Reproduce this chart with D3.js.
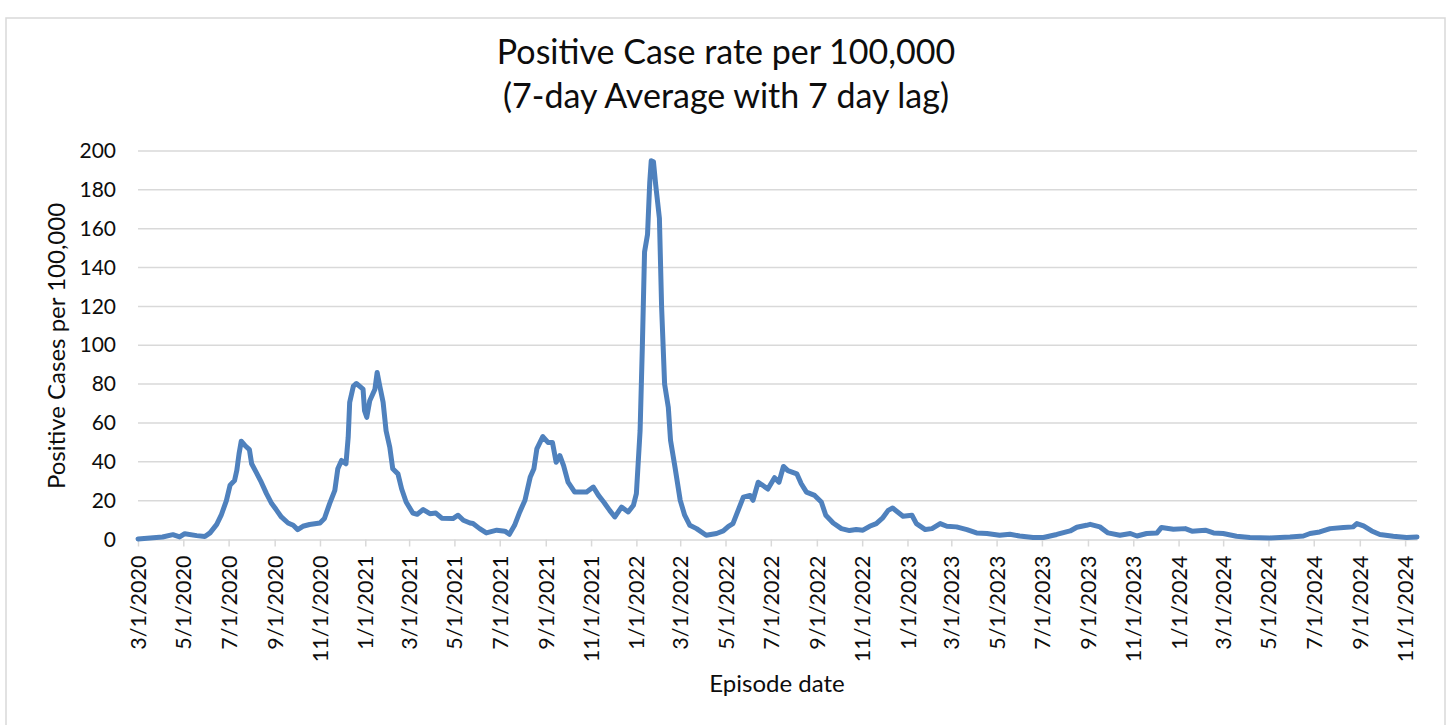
<!DOCTYPE html>
<html>
<head>
<meta charset="utf-8">
<script src="https://cdn.jsdelivr.net/npm/d3@7"></script>
<style>
  html, body { margin: 0; padding: 0; background: #fff; }
  svg { display: block; font-family: Lato, "Open Sans", sans-serif; }
</style>
</head>
<body>
<svg id="chart" width="1449" height="725"></svg>
<script>
// episode dates and 7-day average rate per 100,000
const dates = [
  "2020-03-01","2020-04-03","2020-04-17","2020-04-26","2020-05-03","2020-05-19","2020-05-30","2020-06-06",
  "2020-06-15","2020-06-21","2020-06-28","2020-07-03","2020-07-09","2020-07-12","2020-07-15","2020-07-18",
  "2020-07-23","2020-07-29","2020-08-01","2020-08-07","2020-08-14","2020-08-21","2020-08-28","2020-09-03",
  "2020-09-10","2020-09-19","2020-09-26","2020-10-02","2020-10-09","2020-10-18","2020-11-01","2020-11-07",
  "2020-11-14","2020-11-21","2020-11-25","2020-11-30","2020-12-06","2020-12-09","2020-12-11","2020-12-16",
  "2020-12-20","2020-12-29","2020-12-31","2021-01-03","2021-01-07","2021-01-14","2021-01-17","2021-01-20",
  "2021-01-25","2021-01-29","2021-02-03","2021-02-07","2021-02-14","2021-02-19","2021-02-25","2021-03-06",
  "2021-03-12","2021-03-20","2021-03-29","2021-04-06","2021-04-14","2021-04-29","2021-05-06","2021-05-13",
  "2021-05-22","2021-05-26","2021-06-04","2021-06-13","2021-06-27","2021-07-08","2021-07-14","2021-07-21",
  "2021-07-28","2021-08-04","2021-08-11","2021-08-16","2021-08-20","2021-08-28","2021-09-04","2021-09-10",
  "2021-09-15","2021-09-20","2021-09-25","2021-10-01","2021-10-10","2021-10-26","2021-11-04","2021-11-11",
  "2021-11-18","2021-11-26","2021-12-03","2021-12-12","2021-12-21","2021-12-28","2022-01-01","2022-01-06",
  "2022-01-09","2022-01-12","2022-01-16","2022-01-19","2022-01-21","2022-01-24","2022-01-27","2022-02-01",
  "2022-02-04","2022-02-08","2022-02-13","2022-02-16","2022-02-22","2022-03-01","2022-03-07","2022-03-14",
  "2022-03-23","2022-04-05","2022-04-19","2022-04-28","2022-05-05","2022-05-11","2022-05-18","2022-05-25",
  "2022-06-03","2022-06-07","2022-06-14","2022-06-27","2022-07-06","2022-07-12","2022-07-18","2022-07-24",
  "2022-08-05","2022-08-11","2022-08-18","2022-08-29","2022-09-07","2022-09-13","2022-09-23","2022-10-04",
  "2022-10-15","2022-10-24","2022-11-02","2022-11-11","2022-11-20","2022-11-29","2022-12-06","2022-12-12",
  "2022-12-17","2022-12-26","2023-01-07","2023-01-13","2023-01-25","2023-02-03","2023-02-14","2023-02-23",
  "2023-03-08","2023-03-22","2023-04-04","2023-04-18","2023-05-05","2023-05-19","2023-06-01","2023-06-19",
  "2023-07-03","2023-07-21","2023-08-08","2023-08-17","2023-08-30","2023-09-04","2023-09-17","2023-09-28",
  "2023-10-14","2023-10-28","2023-11-06","2023-11-19","2023-12-03","2023-12-09","2023-12-25","2024-01-10",
  "2024-01-19","2024-02-06","2024-02-17","2024-03-01","2024-03-19","2024-04-06","2024-05-03","2024-05-30",
  "2024-06-17","2024-06-26","2024-07-09","2024-07-23","2024-08-10","2024-08-23","2024-08-28","2024-09-06",
  "2024-09-17","2024-09-28","2024-10-16","2024-11-03","2024-11-17"
];

const rates = [
  0.3, 1.3, 2.5, 1.3, 3.0, 2.0, 1.5, 3.4,
  7.8, 12.5, 20.0, 28.0, 30.4, 35.5, 44.0, 50.6,
  48.4, 46.3, 39.0, 34.7, 29.5, 23.6, 18.5, 15.4,
  11.6, 8.5, 7.3, 5.1, 6.8, 7.7, 8.5, 10.8,
  18.5, 25.3, 36.4, 40.7, 39.0, 52.6, 70.6, 79.0,
  80.3, 77.4, 66.3, 62.9, 71.4, 77.4, 86.0, 80.0,
  70.6, 56.0, 47.5, 36.4, 33.8, 26.0, 19.3, 13.6,
  13.0, 15.4, 13.3, 13.6, 11.0, 10.8, 12.5, 9.9,
  8.5, 8.2, 5.6, 3.4, 4.8, 4.3, 2.7, 7.3,
  14.2, 20.2, 32.0, 36.4, 46.7, 53.0, 50.0, 50.0,
  39.8, 43.2, 38.0, 29.5, 24.4, 24.4, 27.0, 22.7,
  19.3, 15.0, 11.6, 16.7, 14.2, 17.6, 23.6, 56.0,
  98.8, 148.0, 157.0, 184.0, 195.0, 194.5, 182.6, 165.4,
  119.3, 80.0, 68.0, 51.0, 37.2, 20.2, 12.5, 7.3,
  5.6, 2.2, 3.1, 4.4, 6.8, 8.2, 15.0, 21.8,
  22.7, 20.2, 29.5, 26.0, 31.8, 29.5, 37.6, 35.5,
  33.8, 28.7, 24.4, 22.7, 19.3, 12.5, 8.5, 5.6,
  4.6, 5.1, 4.8, 6.8, 8.2, 11.3, 15.0, 16.2,
  14.7, 12.0, 12.5, 8.2, 5.1, 5.6, 8.2, 6.8,
  6.5, 5.1, 3.4, 3.1, 2.2, 2.7, 1.8, 1.0,
  1.0, 2.6, 4.4, 6.3, 7.3, 7.8, 6.5, 3.4,
  2.2, 3.1, 1.8, 3.1, 3.4, 6.2, 5.3, 5.6,
  4.3, 4.8, 3.4, 3.1, 1.7, 1.0, 0.8, 1.3,
  1.8, 3.1, 3.9, 5.6, 6.2, 6.5, 8.2, 7.0,
  4.4, 2.6, 1.7, 1.0, 1.3
];

const xTickLabels = [
  "3/1/2020","5/1/2020","7/1/2020","9/1/2020","11/1/2020",
  "1/1/2021","3/1/2021","5/1/2021","7/1/2021","9/1/2021","11/1/2021",
  "1/1/2022","3/1/2022","5/1/2022","7/1/2022","9/1/2022","11/1/2022",
  "1/1/2023","3/1/2023","5/1/2023","7/1/2023","9/1/2023","11/1/2023",
  "1/1/2024","3/1/2024","5/1/2024","7/1/2024","9/1/2024","11/1/2024"
];
const yTicks = [0, 20, 40, 60, 80, 100, 120, 140, 160, 180, 200];

const titleLines = ["Positive Case rate per 100,000", "(7-day Average with 7 day lag)"];
const yTitle = "Positive Cases per 100,000";
const xTitle = "Episode date";

const parseIso = d3.timeParse("%Y-%m-%d");
const parseUs  = d3.timeParse("%m/%d/%Y");

const points = dates.map((d, i) => ({ date: parseIso(d), value: rates[i] }));
const tickDates = xTickLabels.map(parseUs);

const margin = { left: 138, right: 1417, top: 151, bottom: 539.5 };
const gridColor = "#d9d9d9";

const svg = d3.select("#chart");

// outer chart frame
svg.append("rect")
   .attr("x", 6).attr("y", 18)
   .attr("width", 1439).attr("height", 730)
   .attr("fill", "#fff")
   .attr("stroke", gridColor)
   .attr("stroke-width", 1.5);

let x = d3.scaleTime()
  .domain([parseIso("2020-03-01"), parseIso("2024-11-17")])
  .range([margin.left, margin.right]);

let y = d3.scaleLinear()
  .domain([0, 200])
  .range([margin.bottom, margin.top]);

// horizontal gridlines
svg.append("g")
   .selectAll("line")
   .data(yTicks.filter(t => t > 0))
   .enter().append("line")
   .attr("x1", margin.left).attr("x2", margin.right)
   .attr("y1", d => y(d)).attr("y2", d => y(d))
   .attr("stroke", gridColor)
   .attr("stroke-width", 1.5);

// y axis labels
let yAxis = d3.axisLeft(y).tickValues(yTicks).tickSize(0).tickPadding(0);
let gy = svg.append("g")
   .attr("transform", "translate(" + (margin.left - 22) + ",0)")
   .call(yAxis);
gy.select(".domain").remove();
gy.selectAll("text")
   .attr("font-family", "Lato")
   .attr("font-size", 21)
   .attr("fill", "#0d0d0d");

// x axis with rotated labels
let xAxis = d3.axisBottom(x)
  .tickValues(tickDates)
  .tickFormat((d, i) => xTickLabels[i])
  .tickSize(7)
  .tickSizeOuter(0);

let gx = svg.append("g")
   .attr("transform", "translate(0," + margin.bottom + ")")
   .call(xAxis);
gx.select(".domain").attr("stroke", gridColor).attr("stroke-width", 1.5);
gx.selectAll(".tick line").attr("stroke", gridColor).attr("stroke-width", 1.5);
gx.selectAll("text")
   .attr("font-family", "Lato")
   .attr("font-size", 21.5)
   .attr("fill", "#0d0d0d")
   .attr("text-anchor", "end")
   .attr("transform", "rotate(-90)")
   .attr("x", -16)
   .attr("y", 0)
   .attr("dy", "0.35em");

// the series
let line = d3.line()
  .x(d => x(d.date))
  .y(d => y(d.value));

svg.append("path")
   .datum(points)
   .attr("d", line)
   .attr("fill", "none")
   .attr("stroke", "#4f81bd")
   .attr("stroke-width", 5)
   .attr("stroke-linejoin", "round")
   .attr("stroke-linecap", "round");

// titles
svg.append("g")
   .selectAll("text")
   .data(titleLines)
   .enter().append("text")
   .attr("x", 726)
   .attr("y", (d, i) => 64 + i * 44)
   .attr("text-anchor", "middle")
   .attr("font-family", "Lato")
   .attr("font-size", 34)
   .attr("fill", "#0d0d0d")
   .text(d => d);

svg.append("text")
   .attr("transform", "translate(65,346) rotate(-90)")
   .attr("text-anchor", "middle")
   .attr("font-family", "Lato")
   .attr("font-size", 24)
   .attr("fill", "#0d0d0d")
   .text(yTitle);

svg.append("text")
   .attr("x", 777)
   .attr("y", 692)
   .attr("text-anchor", "middle")
   .attr("font-family", "Lato")
   .attr("font-size", 24)
   .attr("fill", "#0d0d0d")
   .text(xTitle);
</script>
</body>
</html>
